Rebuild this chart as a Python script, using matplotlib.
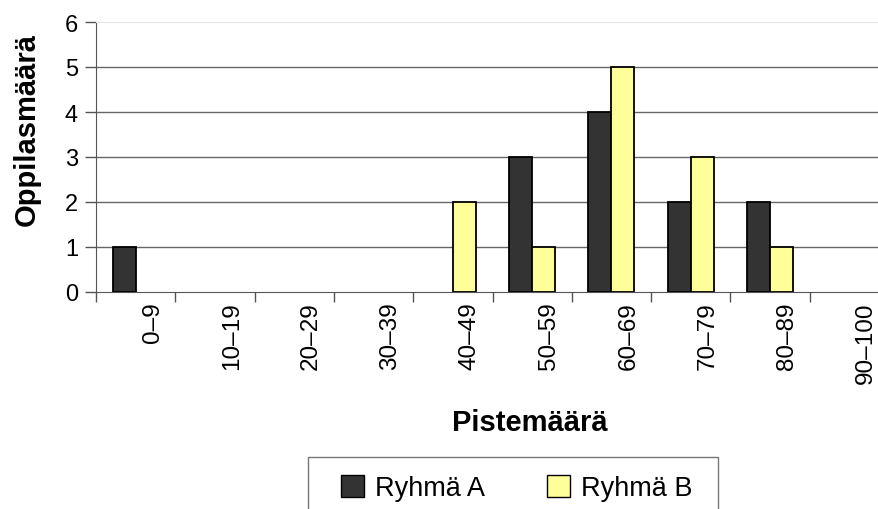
import numpy as np
import matplotlib.pyplot as plt
import matplotlib.transforms as mtransforms
from matplotlib.patches import Patch, Rectangle

categories = ['0–9', '10–19', '20–29', '30–39', '40–49',
              '50–59', '60–69', '70–79', '80–89', '90–100']
ryhma_a = [1, 0, 0, 0, 0, 3, 4, 2, 2, 0]
ryhma_b = [0, 0, 0, 0, 2, 1, 5, 3, 1, 0]
yticks = [0, 1, 2, 3, 4, 5, 6]

plt.rcParams['font.family'] = ['Liberation Sans', 'DejaVu Sans']

W, H = 879, 510
fig = plt.figure(figsize=(W / 100, H / 100), dpi=100)
# plot area runs off the right edge like in the original
left, right, top, bottom = 96, 889, 23, 293
ax = fig.add_axes([left / W, 1 - bottom / H, (right - left) / W, (bottom - top) / H])

x = np.arange(len(categories))
w = 0.29
bars_a = ax.bar(x - w / 2, ryhma_a, w, color='#333333', edgecolor='black',
                linewidth=1.3, label='Ryhmä A', zorder=3)
bars_b = ax.bar(x + w / 2, ryhma_b, w, color='#ffff99', edgecolor='black',
                linewidth=1.3, label='Ryhmä B', zorder=3)
# empty bins show nothing
for bars, vals in ((bars_a, ryhma_a), (bars_b, ryhma_b)):
    for p, v in zip(bars, vals):
        if v == 0:
            p.set_visible(False)

ax.set_xlim(-0.5, len(categories) - 0.5)
ax.set_ylim(0, 6)
ax.set_yticks(yticks)
for v in yticks[1:-1]:
    ax.axhline(v, color='#666666', linewidth=1, zorder=1)

ax.spines['right'].set_visible(False)
ax.spines['top'].set_color('#e6e6e6')
ax.spines['left'].set_color('#555555')
ax.spines['bottom'].set_color('#555555')

ax.tick_params(axis='y', direction='out', length=8, width=1, color='#555555',
               labelsize=17, pad=5)

# tick marks between categories, labels at the centres
ax.set_xticks(x)
ax.set_xticklabels(categories, rotation=90, fontsize=17.5)
ax.set_xticks(np.arange(len(categories)) - 0.5, minor=True)
ax.tick_params(axis='x', which='major', length=0, pad=7)
ax.tick_params(axis='x', which='minor', direction='out', length=7, width=1,
               color='#555555')
shift = mtransforms.ScaledTranslation(17 / 100, 0, fig.dpi_scale_trans)
for lbl in ax.get_xticklabels():
    lbl.set_transform(lbl.get_transform() + shift)

fig.text(27 / W, 1 - 130 / H, 'Oppilasmäärä', rotation=90, ha='center', va='center',
         fontsize=21, fontweight='bold')
fig.text(530 / W, 1 - 423 / H, 'Pistemäärä', ha='center', va='center',
         fontsize=21, fontweight='bold')

# legend box, cut off by the bottom edge
fig.patches.append(Rectangle((308 / W, -0.05), 410 / W, 1 - 458 / H + 0.05,
                             transform=fig.transFigure, facecolor='none',
                             edgecolor='#777777', linewidth=1))
handles = [Patch(facecolor='#333333', edgecolor='black', label='Ryhmä A'),
           Patch(facecolor='#ffff99', edgecolor='black', label='Ryhmä B')]
fig.legend(handles=handles, loc='center', ncol=2,
           bbox_to_anchor=(517 / W, 1 - 489 / H), fontsize=19.5,
           frameon=False, handlelength=0.85, handleheight=0.85,
           handletextpad=0.4, columnspacing=2.3, borderpad=0, borderaxespad=0)

fig.savefig('out.png', dpi=100)
